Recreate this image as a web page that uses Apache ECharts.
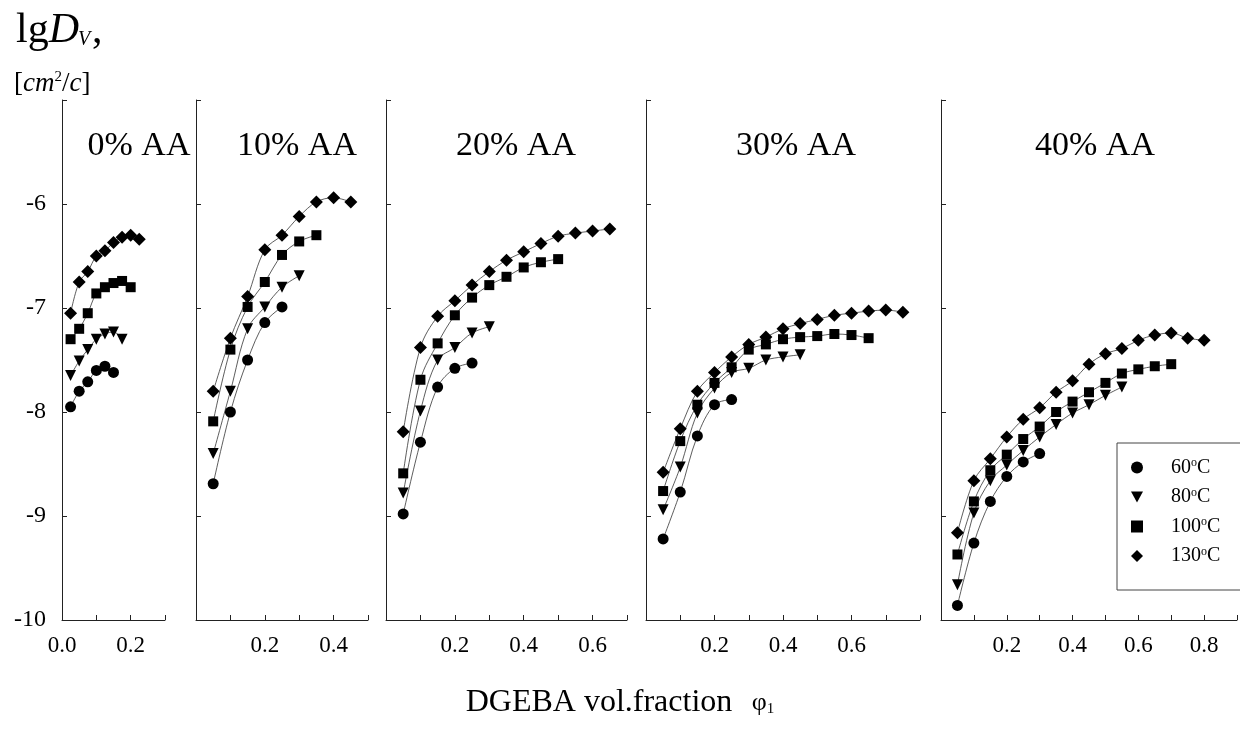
<!DOCTYPE html>
<html>
<head>
<meta charset="utf-8">
<script src="https://cdn.jsdelivr.net/npm/echarts@6/dist/echarts.min.js"></script>
<style>
  html, body { margin: 0; padding: 0; background: #fff; }
  #main { width: 1240px; height: 732px; }
</style>
</head>
<body>
<div id="main"></div>
<script>
// legend names and panel titles
var temps = ['60°C', '80°C', '100°C', '130°C'];
var panelTitles = ['0% AA', '10% AA', '20% AA', '30% AA', '40% AA'];
var xMax = [0.3, 0.5, 0.7, 0.8, 0.9];

// DGEBA volume fraction (x) for each point
var phiA = [0.025, 0.05, 0.075, 0.1, 0.125, 0.15, 0.175, 0.2, 0.225];
var phiB = [0.05, 0.1, 0.15, 0.2, 0.25, 0.3, 0.35, 0.4, 0.45, 0.5, 0.55, 0.6, 0.65, 0.7, 0.75, 0.8];

// lg Dv, 0% AA
var aa0_60  = [-7.95, -7.80, -7.71, -7.60, -7.56, -7.62];
var aa0_80  = [-7.65, -7.51, -7.40, -7.30, -7.25, -7.23, -7.30];
var aa0_100 = [-7.30, -7.20, -7.05, -6.86, -6.80, -6.76, -6.74, -6.80];
var aa0_130 = [-7.05, -6.75, -6.65, -6.50, -6.45, -6.37, -6.32, -6.30, -6.34];
// 10% AA
var aa10_60  = [-8.69, -8.00, -7.50, -7.14, -6.99];
var aa10_80  = [-8.40, -7.80, -7.20, -6.99, -6.80, -6.69];
var aa10_100 = [-8.09, -7.40, -6.99, -6.75, -6.49, -6.36, -6.30];
var aa10_130 = [-7.80, -7.29, -6.89, -6.44, -6.30, -6.12, -5.98, -5.94, -5.98];
// 20% AA
var aa20_60  = [-8.98, -8.29, -7.76, -7.58, -7.53];
var aa20_80  = [-8.78, -7.99, -7.50, -7.38, -7.24, -7.18];
var aa20_100 = [-8.59, -7.69, -7.34, -7.07, -6.90, -6.78, -6.70, -6.61, -6.56, -6.53];
var aa20_130 = [-8.19, -7.38, -7.08, -6.93, -6.78, -6.65, -6.54, -6.46, -6.38, -6.31, -6.28, -6.26, -6.24];
// 30% AA
var aa30_60  = [-9.22, -8.77, -8.23, -7.93, -7.88];
var aa30_80  = [-8.94, -8.53, -8.01, -7.77, -7.62, -7.58, -7.50, -7.47, -7.45];
var aa30_100 = [-8.76, -8.28, -7.93, -7.72, -7.57, -7.40, -7.35, -7.30, -7.28, -7.27, -7.25, -7.26, -7.29];
var aa30_130 = [-8.58, -8.16, -7.80, -7.62, -7.47, -7.35, -7.28, -7.20, -7.15, -7.11, -7.07, -7.05, -7.03, -7.02, -7.04];
// 40% AA
var aa40_60  = [-9.86, -9.26, -8.86, -8.62, -8.48, -8.40];
var aa40_80  = [-9.66, -8.97, -8.66, -8.51, -8.37, -8.24, -8.12, -8.01, -7.93, -7.84, -7.76];
var aa40_100 = [-9.37, -8.86, -8.56, -8.41, -8.26, -8.14, -8.00, -7.90, -7.81, -7.72, -7.63, -7.59, -7.56, -7.54];
var aa40_130 = [-9.16, -8.66, -8.45, -8.24, -8.07, -7.96, -7.81, -7.70, -7.54, -7.44, -7.39, -7.31, -7.26, -7.24, -7.29, -7.31];

var panels = [
  { x: phiA, ys: [aa0_60, aa0_80, aa0_100, aa0_130] },
  { x: phiB, ys: [aa10_60, aa10_80, aa10_100, aa10_130] },
  { x: phiB, ys: [aa20_60, aa20_80, aa20_100, aa20_130] },
  { x: phiB, ys: [aa30_60, aa30_80, aa30_100, aa30_130] },
  { x: phiB, ys: [aa40_60, aa40_80, aa40_100, aa40_130] }
];

var FONT = '"Liberation Serif", "DejaVu Serif", serif';
var gridLeft = [62, 196, 386, 646, 941];
var gridWidth = [103, 172, 241, 274, 310];
var titleX = [139, 297, 516, 796, 1095];

var symbols = ['circle', 'triangle', 'rect', 'diamond'];
var symbolSizes = [11, 11, 10, 13];
var symbolRot = [0, 180, 0, 0];

var grids = [], xAxes = [], yAxes = [], series = [], graphics = [];

panels.forEach(function (p, i) {
  grids.push({ left: gridLeft[i], width: gridWidth[i], top: 100, height: 520 });
  xAxes.push({
    type: 'value', gridIndex: i, min: 0, max: xMax[i], interval: 0.1,
    splitLine: { show: false },
    axisLine: { lineStyle: { color: '#222', width: 1 } },
    axisTick: { inside: true, length: 5, lineStyle: { color: '#222' } },
    axisLabel: {
      interval: 0, margin: 14, color: '#000', fontFamily: FONT, fontSize: 23,
      formatter: function (v) {
        var k = Math.round(v * 10);
        if (k % 2 !== 0) return '';
        if (k === 0 && i > 0) return '';
        if (k === Math.round(xMax[i] * 10) && i < 4) return '';
        return v.toFixed(1);
      }
    }
  });
  yAxes.push({
    type: 'value', gridIndex: i, min: -10, max: -5, interval: 1,
    splitLine: { show: false },
    axisLine: { show: true, lineStyle: { color: '#222', width: 1 } },
    axisTick: { inside: true, length: 5, lineStyle: { color: '#222' } },
    axisLabel: {
      show: i === 0, margin: 16, color: '#000', fontFamily: FONT, fontSize: 24,
      formatter: function (v) { return v === -5 ? '' : String(v); }
    }
  });
  p.ys.forEach(function (ys, t) {
    series.push({
      name: temps[t], type: 'line', xAxisIndex: i, yAxisIndex: i,
      data: ys.map(function (y, k) { return [p.x[k], y]; }),
      smooth: 0.35,
      symbol: symbols[t], symbolSize: symbolSizes[t], symbolRotate: symbolRot[t],
      itemStyle: { color: '#000' },
      lineStyle: { color: '#333', width: 0.8 },
      emphasis: { disabled: true }
    });
  });
  graphics.push({
    type: 'text', x: titleX[i], y: 146,
    style: { text: panelTitles[i], font: '34px ' + FONT, fill: '#000', align: 'center', verticalAlign: 'middle' }
  });
});

// axis titles
graphics.push({
  type: 'text', left: 16, top: 10,
  style: {
    text: '{n|lg}{i|D}',
    fill: '#000',
    rich: {
      n: { fontFamily: FONT, fontSize: 42, fill: '#000' },
      i: { fontFamily: FONT, fontSize: 42, fontStyle: 'italic', fill: '#000' }
    }
  }
});
graphics.push({
  type: 'text', left: 78, top: 30,
  style: { text: 'V', font: 'italic 20px ' + FONT, fill: '#000' }
});
graphics.push({
  type: 'text', left: 92, top: 10,
  style: { text: ',', font: '42px ' + FONT, fill: '#000' }
});
graphics.push({
  type: 'text', left: 14, top: 70,
  style: {
    text: '{n|[}{i|cm}{u|2}{n|/}{i|c}{n|]}',
    fill: '#000',
    rich: {
      n: { fontFamily: FONT, fontSize: 27, fill: '#000' },
      i: { fontFamily: FONT, fontSize: 27, fontStyle: 'italic', fill: '#000' },
      u: { fontFamily: FONT, fontSize: 15, fill: '#000', padding: [0, 0, 12, 0] }
    }
  }
});
graphics.push({
  type: 'text', x: 620, y: 703,
  style: {
    text: '{t|DGEBA vol.fraction}{p|   φ}{s|1}',
    align: 'center', verticalAlign: 'middle',
    rich: {
      t: { fontFamily: FONT, fontSize: 32, fill: '#000' },
      p: { fontFamily: FONT, fontSize: 26, fill: '#000' },
      s: { fontFamily: FONT, fontSize: 15, fill: '#000', padding: [12, 0, 0, 0] }
    }
  }
});

var chart = echarts.init(document.getElementById('main'));
chart.setOption({
  animation: false,
  backgroundColor: '#fff',
  grid: grids,
  xAxis: xAxes,
  yAxis: yAxes,
  series: series,
  graphic: graphics,
  legend: {
    orient: 'vertical', left: 1117, top: 443,
    padding: [14, 60, 24, 14],
    itemWidth: 12, itemHeight: 12, itemGap: 9,
    borderColor: '#444', borderWidth: 1, backgroundColor: '#fff',
    selectedMode: false,
    data: [
      { name: temps[0], icon: 'circle' },
      { name: temps[1], icon: 'path://M0,0L10,0L5,9Z' },
      { name: temps[2], icon: 'rect' },
      { name: temps[3], icon: 'diamond' }
    ],
    formatter: function (name) {
      return '{g|}' + name.replace('°', '{u|o}');
    },
    textStyle: {
      fontFamily: FONT, fontSize: 20, color: '#000', lineHeight: 20,
      rich: {
        g: { width: 23 },
        u: { fontFamily: FONT, fontSize: 12, color: '#000', padding: [0, 0, 9, 0] }
      }
    }
  }
});
</script>
</body>
</html>
